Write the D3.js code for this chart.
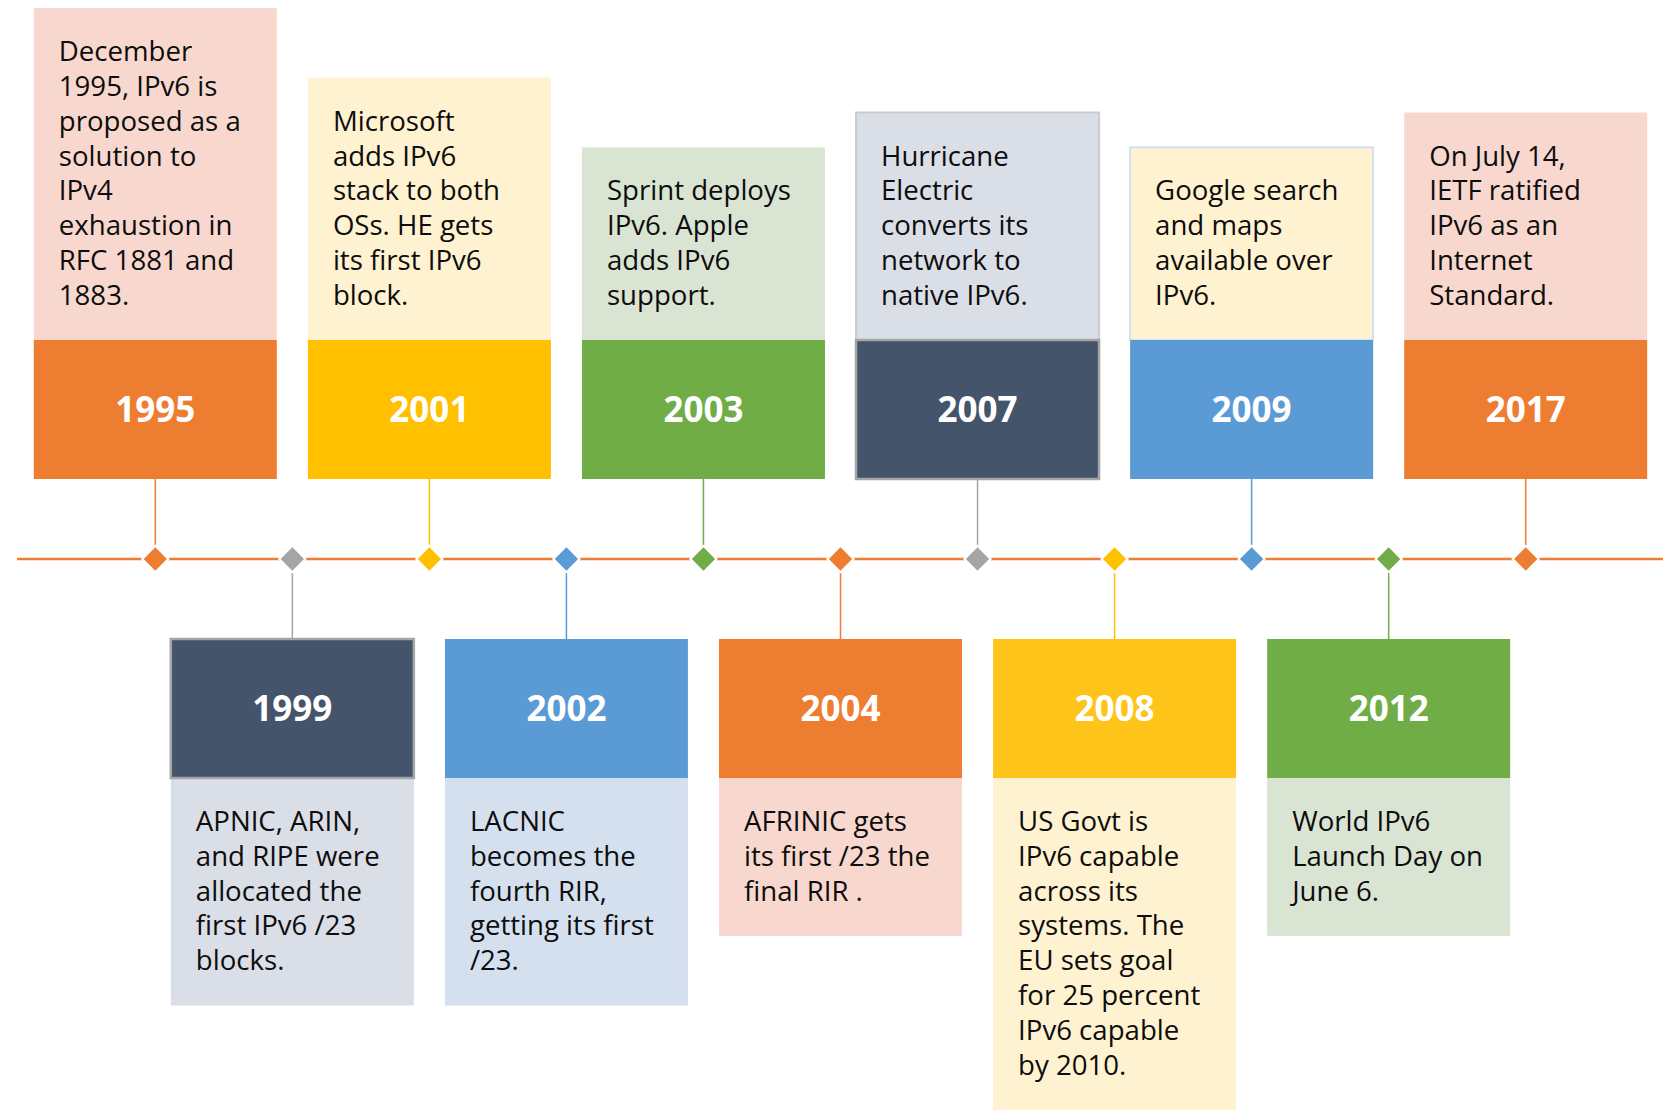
<!DOCTYPE html>
<meta charset="utf-8">
<script src="https://d3js.org/d3.v7.min.js"></script>
<style>
  body { margin: 0; background: #fff; }
</style>
<div id="timeline"></div>
<script>
// timeline events, in order
var years = ["1995", "1999", "2001", "2002", "2003", "2004", "2007", "2008", "2009", "2012", "2017"];
var notes = [
  ["December", "1995, IPv6 is", "proposed as a", "solution to", "IPv4", "exhaustion in", "RFC 1881 and", "1883."],
  ["APNIC, ARIN,", "and RIPE were", "allocated the", "first IPv6 /23", "blocks."],
  ["Microsoft", "adds IPv6", "stack to both", "OSs. HE gets", "its first IPv6", "block."],
  ["LACNIC", "becomes the", "fourth RIR,", "getting its first", "/23."],
  ["Sprint deploys", "IPv6. Apple", "adds IPv6", "support."],
  ["AFRINIC gets", "its first /23 the", "final RIR ."],
  ["Hurricane", "Electric", "converts its", "network to", "native IPv6."],
  ["US Govt is", "IPv6 capable", "across its", "systems. The", "EU sets goal", "for 25 percent", "IPv6 capable", "by 2010."],
  ["Google search", "and maps", "available over", "IPv6."],
  ["World IPv6", "Launch Day on", "June 6."],
  ["On July 14,", "IETF ratified", "IPv6 as an", "Internet", "Standard."]
];

// colours (one per event)
var markColors = ["#ED7D31", "#A5A5A5", "#FFC000", "#5B9BD5", "#70AD47", "#ED7D31", "#A5A5A5", "#FFC000", "#5B9BD5", "#70AD47", "#ED7D31"];
var yearColors = ["#ED7D31", "#44546A", "#FFC000", "#5B9BD5", "#70AD47", "#ED7D31", "#44546A", "#FEC41A", "#5B9BD5", "#70AD47", "#ED7D31"];
var noteColors = ["#F8D8CE", "#DADEE6", "#FFF2D0", "#D5E0EE", "#DAE4D3", "#F8D8CE", "#DADEE6", "#FFF2D0", "#FFF2D0", "#DAE4D3", "#F8D8CE"];
var borders = {
  "1999": { year: "#A5A5A5" },
  "2007": { year: "#A5A5A5", note: "#C9CBCF" },
  "2009": { note: "#D3DFEE" }
};

var width = 1675, height = 1111;
var lineY = 559, gapY = 80, yearH = 139, boxW = 243;
var lineH = 34.8, notePad = 53.5;

var svg = d3.select("#timeline")
  .append("svg")
    .attr("width", width)
    .attr("height", height);

var x = d3.scalePoint()
  .domain(years)
  .range([155.3, 1525.7]);

var data = years.map(function(y, i) {
  return { year: y, lines: notes[i], i: i, up: i % 2 === 0 };
});

// main line
svg.append("line")
  .attr("x1", 17).attr("x2", 1663)
  .attr("y1", lineY).attr("y2", lineY)
  .attr("stroke", "#ED7D31")
  .attr("stroke-width", 2.6);

var ev = svg.selectAll(".event")
  .data(data)
  .enter()
  .append("g")
    .attr("class", "event");

// box positions
function yearTop(d) { return d.up ? lineY - gapY - yearH : lineY + gapY; }
function noteH(d) { return d.lines.length * lineH + notePad; }
function noteTop(d) { return d.up ? yearTop(d) - noteH(d) : yearTop(d) + yearH; }

// connectors
ev.append("line")
  .attr("x1", function(d) { return x(d.year); })
  .attr("x2", function(d) { return x(d.year); })
  .attr("y1", lineY)
  .attr("y2", function(d) { return d.up ? yearTop(d) + yearH : yearTop(d); })
  .attr("stroke", function(d) { return markColors[d.i]; })
  .attr("stroke-width", 1.5);

// description boxes
ev.append("rect")
  .attr("x", function(d) { return x(d.year) - boxW / 2; })
  .attr("y", noteTop)
  .attr("width", boxW)
  .attr("height", noteH)
  .attr("fill", function(d) { return noteColors[d.i]; })
  .attr("stroke", function(d) { return (borders[d.year] && borders[d.year].note) || "none"; })
  .attr("stroke-width", 2);

// year boxes
ev.append("rect")
  .attr("x", function(d) { return x(d.year) - boxW / 2; })
  .attr("y", yearTop)
  .attr("width", boxW)
  .attr("height", yearH)
  .attr("fill", function(d) { return yearColors[d.i]; })
  .attr("stroke", function(d) { return (borders[d.year] && borders[d.year].year) || "none"; })
  .attr("stroke-width", 2.5);

ev.append("text")
  .attr("x", function(d) { return x(d.year); })
  .attr("y", function(d) { return yearTop(d) + yearH / 2; })
  .attr("dy", "0.36em")
  .attr("text-anchor", "middle")
  .style("font-family", "'Open Sans', sans-serif")
  .style("font-weight", "bold")
  .style("font-size", "35px")
  .style("fill", "#fff")
  .text(function(d) { return d.year; });

// description text, one tspan per line
ev.append("text")
  .style("font-family", "'Open Sans', sans-serif")
  .style("font-size", "27.6px")
  .style("fill", "#0d0d0d")
  .selectAll("tspan")
  .data(function(d) {
    return d.lines.map(function(t, k) { return { d: d, t: t, k: k }; });
  })
  .enter()
  .append("tspan")
    .attr("x", function(l) { return x(l.d.year) - boxW / 2 + 25; })
    .attr("y", function(l) { return noteTop(l.d) + 53 + l.k * lineH; })
    .text(function(l) { return l.t; });

// diamonds on the line
ev.append("rect")
  .attr("width", 18.5)
  .attr("height", 18.5)
  .attr("x", -9.25)
  .attr("y", -9.25)
  .attr("transform", function(d) { return "translate(" + x(d.year) + "," + lineY + ") rotate(45)"; })
  .attr("fill", function(d) { return markColors[d.i]; })
  .attr("stroke", "#fff")
  .attr("stroke-width", 2);
</script>
